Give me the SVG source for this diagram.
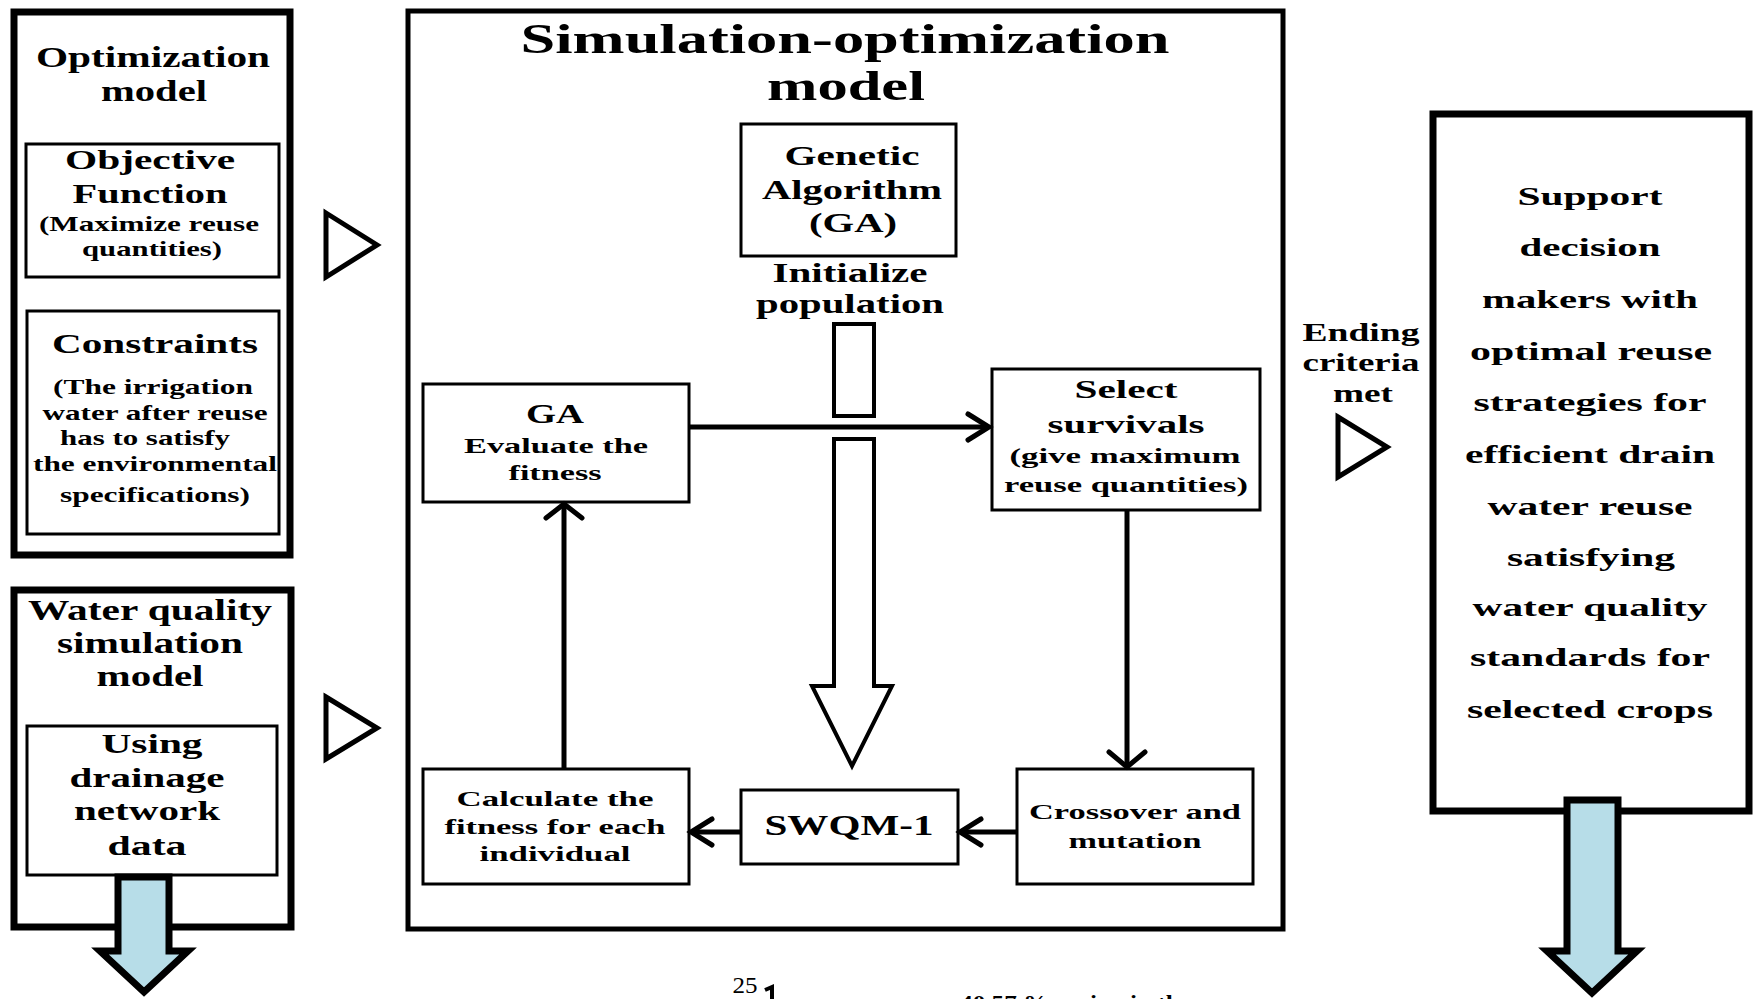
<svg xmlns="http://www.w3.org/2000/svg" width="1754" height="999" viewBox="0 0 1754 999">
<style>
text{font-family:"Liberation Serif","Times New Roman",serif;font-weight:bold;fill:#000;text-anchor:middle}
.outer{fill:#fff;stroke:#000;stroke-width:7}
.main{fill:#fff;stroke:#000;stroke-width:5}
.inner{fill:#fff;stroke:#000;stroke-width:3}
.line{fill:none;stroke:#000;stroke-width:5}
.head{fill:none;stroke:#000;stroke-width:5;stroke-linecap:round;stroke-linejoin:miter}
.tri{fill:none;stroke:#000;stroke-width:5;stroke-linejoin:miter}
.hollow{fill:#fff;stroke:#000;stroke-width:4}
.blue{fill:#b7dde8;stroke:#000;stroke-width:7;stroke-linejoin:miter}
.t30{font-size:30px}.t28{font-size:28px}.t27{font-size:27px}.t26{font-size:26px}.t25{font-size:25px}.t22{font-size:22px}.t21{font-size:21px}.t42{font-size:42px}
</style>
<rect width="1754" height="999" fill="#fff"/>

<g id="optimization-model">
<rect class="outer" x="14" y="12" width="276" height="543"/>
<text class="t30" x="153" y="67" textLength="234" lengthAdjust="spacingAndGlyphs">Optimization</text>
<text class="t30" x="154" y="101" textLength="106" lengthAdjust="spacingAndGlyphs">model</text>
</g>
<g id="objective-function">
<rect class="inner" x="26" y="144" width="253" height="133"/>
<text class="t28" x="150" y="169" textLength="170" lengthAdjust="spacingAndGlyphs">Objective</text>
<text class="t28" x="150" y="203" textLength="155" lengthAdjust="spacingAndGlyphs">Function</text>
<text class="t21" x="149" y="231" textLength="220" lengthAdjust="spacingAndGlyphs">(Maximize reuse</text>
<text class="t21" x="152" y="256" textLength="140" lengthAdjust="spacingAndGlyphs">quantities)</text>
</g>
<g id="constraints">
<rect class="inner" x="27" y="311" width="252" height="223"/>
<text class="t28" x="155" y="353" textLength="206" lengthAdjust="spacingAndGlyphs">Constraints</text>
<text class="t21" x="153" y="394" textLength="200" lengthAdjust="spacingAndGlyphs">(The irrigation</text>
<text class="t21" x="155" y="420" textLength="225" lengthAdjust="spacingAndGlyphs">water after reuse</text>
<text class="t21" x="145" y="445" textLength="170" lengthAdjust="spacingAndGlyphs">has to satisfy</text>
<text class="t21" x="155" y="471" textLength="244" lengthAdjust="spacingAndGlyphs">the environmental</text>
<text class="t21" x="155" y="502" textLength="190" lengthAdjust="spacingAndGlyphs">specifications)</text>
</g>

<g id="water-quality-model">
<rect class="outer" x="14" y="590" width="277" height="337"/>
<text class="t30" x="150" y="620" textLength="244" lengthAdjust="spacingAndGlyphs">Water quality</text>
<text class="t30" x="150" y="653" textLength="186" lengthAdjust="spacingAndGlyphs">simulation</text>
<text class="t30" x="150" y="686" textLength="107" lengthAdjust="spacingAndGlyphs">model</text>
</g>
<g id="drainage-data">
<rect class="inner" x="27" y="726" width="250" height="149"/>
<text class="t28" x="152" y="753" textLength="101" lengthAdjust="spacingAndGlyphs">Using</text>
<text class="t28" x="147" y="787" textLength="155" lengthAdjust="spacingAndGlyphs">drainage</text>
<text class="t28" x="147" y="820" textLength="146" lengthAdjust="spacingAndGlyphs">network</text>
<text class="t28" x="147" y="855" textLength="79" lengthAdjust="spacingAndGlyphs">data</text>
</g>

<g id="simulation-optimization-model">
<rect class="main" x="408" y="11" width="875" height="918"/>
<text class="t42" x="845" y="53" textLength="649" lengthAdjust="spacingAndGlyphs">Simulation-optimization</text>
<text class="t42" x="846" y="100" textLength="158" lengthAdjust="spacingAndGlyphs">model</text>
</g>
<g id="genetic-algorithm">
<rect class="inner" x="741" y="124" width="215" height="132"/>
<text class="t27" x="852" y="165" textLength="135" lengthAdjust="spacingAndGlyphs">Genetic</text>
<text class="t27" x="852" y="199" textLength="180" lengthAdjust="spacingAndGlyphs">Algorithm</text>
<text class="t27" x="853" y="232" textLength="88" lengthAdjust="spacingAndGlyphs">(GA)</text>
</g>
<g id="initialize-population">
<text class="t27" x="850" y="282" textLength="155" lengthAdjust="spacingAndGlyphs">Initialize</text>
<text class="t27" x="850" y="313" textLength="188" lengthAdjust="spacingAndGlyphs">population</text>
</g>
<g id="ga-evaluate">
<rect class="inner" x="423" y="384" width="266" height="118"/>
<text class="t27" x="555" y="423" textLength="58" lengthAdjust="spacingAndGlyphs">GA</text>
<text class="t21" x="556" y="453" textLength="184" lengthAdjust="spacingAndGlyphs">Evaluate the</text>
<text class="t21" x="555" y="480" textLength="93" lengthAdjust="spacingAndGlyphs">fitness</text>
</g>
<g id="select-survivals">
<rect class="inner" x="992" y="369" width="268" height="141"/>
<text class="t25" x="1126" y="398" textLength="103" lengthAdjust="spacingAndGlyphs">Select</text>
<text class="t25" x="1126" y="433" textLength="157" lengthAdjust="spacingAndGlyphs">survivals</text>
<text class="t22" x="1125" y="463" textLength="231" lengthAdjust="spacingAndGlyphs">(give maximum</text>
<text class="t22" x="1126" y="492" textLength="244" lengthAdjust="spacingAndGlyphs">reuse quantities)</text>
</g>
<g id="calculate-fitness">
<rect class="inner" x="423" y="769" width="266" height="115"/>
<text class="t22" x="555" y="806" textLength="197" lengthAdjust="spacingAndGlyphs">Calculate the</text>
<text class="t22" x="555" y="834" textLength="221" lengthAdjust="spacingAndGlyphs">fitness for each</text>
<text class="t22" x="555" y="861" textLength="151" lengthAdjust="spacingAndGlyphs">individual</text>
</g>
<g id="swqm-1">
<rect class="inner" x="741" y="790" width="217" height="74"/>
<text class="t30" x="849" y="835" textLength="169" lengthAdjust="spacingAndGlyphs">SWQM-1</text>
</g>
<g id="crossover-mutation">
<rect class="inner" x="1017" y="769" width="236" height="115"/>
<text class="t22" x="1135" y="819" textLength="212" lengthAdjust="spacingAndGlyphs">Crossover and</text>
<text class="t22" x="1135" y="848" textLength="133" lengthAdjust="spacingAndGlyphs">mutation</text>
</g>

<g id="ending-criteria">
<text class="t25" x="1361" y="341" textLength="117" lengthAdjust="spacingAndGlyphs">Ending</text>
<text class="t25" x="1361" y="371" textLength="117" lengthAdjust="spacingAndGlyphs">criteria</text>
<text class="t25" x="1363" y="402" textLength="60" lengthAdjust="spacingAndGlyphs">met</text>
</g>

<g id="support-decision">
<rect class="outer" x="1433" y="114" width="316" height="697"/>
<text class="t26" x="1590" y="205" textLength="145" lengthAdjust="spacingAndGlyphs">Support</text>
<text class="t26" x="1590" y="256" textLength="141" lengthAdjust="spacingAndGlyphs">decision</text>
<text class="t26" x="1590" y="308" textLength="216" lengthAdjust="spacingAndGlyphs">makers with</text>
<text class="t26" x="1591" y="360" textLength="242" lengthAdjust="spacingAndGlyphs">optimal reuse</text>
<text class="t26" x="1590" y="411" textLength="233" lengthAdjust="spacingAndGlyphs">strategies for</text>
<text class="t26" x="1590" y="463" textLength="250" lengthAdjust="spacingAndGlyphs">efficient drain</text>
<text class="t26" x="1590" y="515" textLength="205" lengthAdjust="spacingAndGlyphs">water reuse</text>
<text class="t26" x="1591" y="566" textLength="168" lengthAdjust="spacingAndGlyphs">satisfying</text>
<text class="t26" x="1590" y="616" textLength="235" lengthAdjust="spacingAndGlyphs">water quality</text>
<text class="t26" x="1590" y="666" textLength="240" lengthAdjust="spacingAndGlyphs">standards for</text>
<text class="t26" x="1590" y="718" textLength="246" lengthAdjust="spacingAndGlyphs">selected crops</text>
</g>

<g id="connectors">
<polygon class="tri" points="326,213 377,245 326,277"/>
<polygon class="tri" points="326,697 377,728 326,759"/>
<polygon class="tri" points="1338,417 1387,447 1338,477"/>

<rect class="hollow" x="834" y="324" width="40" height="92"/>
<polygon class="hollow" points="834,439 874,439 874,686 892,686 852,766 812,686 834,686"/>

<path class="line" d="M690 427H987"/>
<path class="head" d="M968 414L989 427L968 440"/>
<path class="line" d="M1127 510V765"/>
<path class="head" d="M1109 752L1127 767L1145 752"/>
<path class="line" d="M1017 832H962"/>
<path class="head" d="M981 819L960 832L981 845"/>
<path class="line" d="M741 832H693"/>
<path class="head" d="M712 819L691 832L712 845"/>
<path class="line" d="M564 769V506"/>
<path class="head" d="M546 518L564 504L582 518"/>

<polygon class="blue" points="118,877 169,877 169,951 188,951 144,992 100,951 118,951"/>
<polygon class="blue" points="1567,800 1618,800 1618,951 1637,951 1592,993 1547,951 1567,951"/>
</g>

<g id="chart-fragment">
<text x="745" y="993" style="font-size:24px;font-weight:normal" textLength="25" lengthAdjust="spacingAndGlyphs">25</text>
<polyline points="765,990 772,987 772,999" fill="none" stroke="#000" stroke-width="4"/>
<text x="960" y="1010" style="font-size:22px;text-anchor:start" textLength="231" lengthAdjust="spacingAndGlyphs">40.57 % saving in the</text>
</g>
</svg>
